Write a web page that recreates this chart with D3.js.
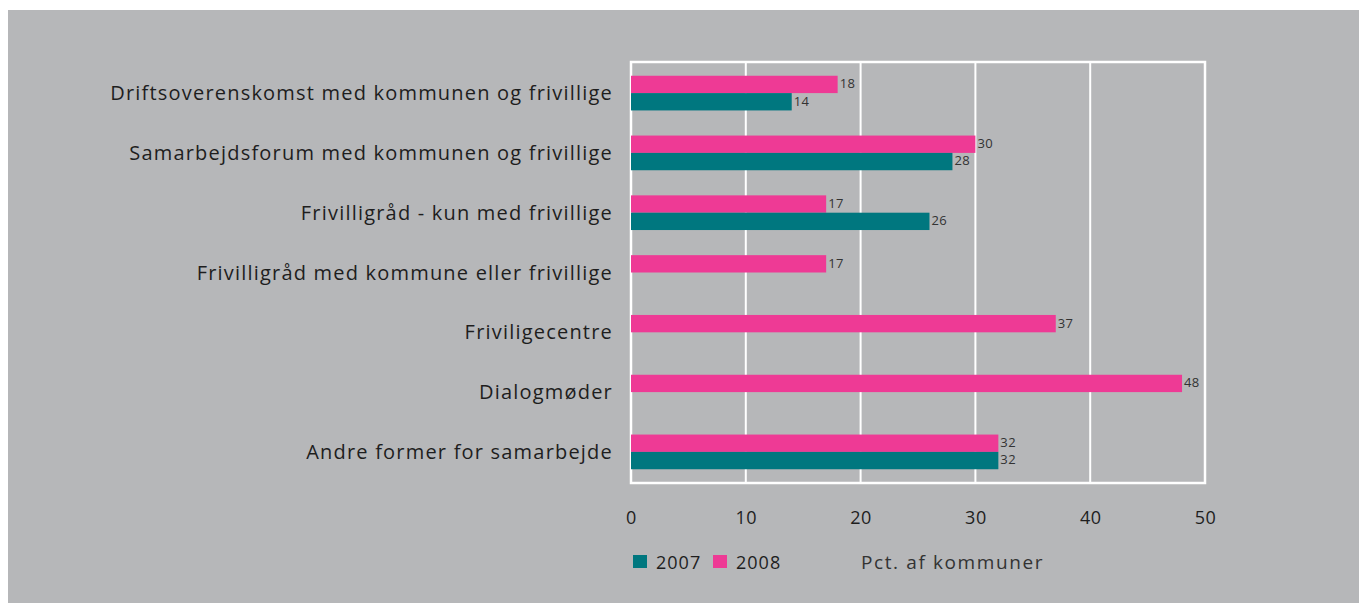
<!DOCTYPE html>
<html>
<head>
<meta charset="utf-8">
<script src="https://cdn.jsdelivr.net/npm/d3@7"></script>
<style>
  html, body { margin: 0; padding: 0; background: #fff; }
  svg { display: block; }
</style>
</head>
<body>
<div id="chart"></div>
<script>
const categories = [
  'Driftsoverenskomst med kommunen og frivillige',
  'Samarbejdsforum med kommunen og frivillige',
  'Frivilligråd - kun med frivillige',
  'Frivilligråd med kommune eller frivillige',
  'Friviligecentre',
  'Dialogmøder',
  'Andre former for samarbejde'
]
const series = ['2008', '2007']
const values2008 = [18, 30, 17, 17, 37, 48, 32]
const values2007 = [14, 28, 26, null, null, null, 32]
const xTicks = [0, 10, 20, 30, 40, 50]
const axisTitle = 'Pct. af kommuner'

const W = 1359, H = 603
const colors = { '2007': '#00777f', '2008': '#ee3a95' }
const font = "'Open Sans', sans-serif"

const margin = { left: 631, right: 154, top: 62, bottom: 120 }

const svg = d3.select('#chart').append('svg')
  .attr('width', W).attr('height', H)

/* grey panel */
svg.append('rect')
  .attr('x', 8).attr('y', 10)
  .attr('width', W - 8).attr('height', H - 10)
  .attr('fill', '#b6b7b9')

const x = d3.scaleLinear().domain([0, 50]).range([margin.left, W - margin.right])
const y = d3.scaleBand().domain(categories).range([margin.top, H - margin.bottom]).paddingInner(0.42).paddingOuter(0.23)
const ySub = d3.scaleBand().domain(series).range([0, y.bandwidth()])

const g = svg.append('g')

/* grid */
g.selectAll('line.grid')
  .data(xTicks.slice(1, -1))
  .join('line')
  .attr('class', 'grid')
  .attr('x1', d => x(d)).attr('x2', d => x(d))
  .attr('y1', margin.top).attr('y2', H - margin.bottom)
  .attr('stroke', '#fff').attr('stroke-width', 2)

/* frame */
g.append('rect')
  .attr('x', x(0)).attr('y', margin.top)
  .attr('width', x(50) - x(0)).attr('height', H - margin.bottom - margin.top)
  .attr('fill', 'none').attr('stroke', '#fff').attr('stroke-width', 2.5)

const rows = categories.map((c, i) => ({ cat: c, '2008': values2008[i], '2007': values2007[i] }))

const bars = []
rows.forEach(r => series.forEach(s => { if (r[s] != null) bars.push({ cat: r.cat, s, v: r[s] }) }))

g.selectAll('rect.bar')
  .data(bars)
  .join('rect')
  .attr('class', 'bar')
  .attr('x', x(0))
  .attr('y', d => y(d.cat) + ySub(d.s))
  .attr('width', d => x(d.v) - x(0))
  .attr('height', ySub.bandwidth())
  .attr('fill', d => colors[d.s])

g.selectAll('text.val')
  .data(bars)
  .join('text')
  .attr('class', 'val')
  .attr('x', d => x(d.v) + 2)
  .attr('y', d => y(d.cat) + ySub(d.s) + ySub.bandwidth() / 2)
  .attr('dy', '0.3em')
  .attr('font-family', font).attr('font-size', 13)
  .attr('letter-spacing', 0.4)
  .attr('fill', '#333')
  .text(d => d.v)

/* category labels */
g.selectAll('text.cat')
  .data(categories)
  .join('text')
  .attr('class', 'cat')
  .attr('x', margin.left - 18)
  .attr('y', d => y(d) + y.bandwidth() / 2)
  .attr('dy', '0.35em')
  .attr('text-anchor', 'end')
  .attr('font-family', font).attr('font-size', 20)
  .attr('letter-spacing', 1.2)
  .attr('fill', '#1e1e1e')
  .text(d => d)

/* x axis */
const xAxis = d3.axisBottom(x).tickValues(xTicks).tickSize(0).tickPadding(0)
const ax = svg.append('g')
  .attr('transform', `translate(0, ${H - margin.bottom + 41})`)
  .call(xAxis)
ax.select('.domain').remove()
ax.selectAll('text')
  .attr('font-family', font).attr('font-size', 18)
  .attr('letter-spacing', 0.5)
  .attr('fill', '#1e1e1e')
  .attr('dy', 0)

/* legend */
const legend = svg.append('g').attr('transform', `translate(${x(0) + 2}, 555)`)
const legItems = ['2007', '2008']
legItems.forEach((s, i) => {
  const lg = legend.append('g').attr('transform', `translate(${i * 80}, 0)`)
  lg.append('rect').attr('width', 14).attr('height', 13).attr('fill', colors[s])
  lg.append('text')
    .attr('x', 23).attr('y', 14)
    .attr('font-family', font).attr('font-size', 18)
    .attr('letter-spacing', 1)
    .attr('fill', '#1e1e1e')
    .text(s)
})

svg.append('text')
  .attr('x', 861).attr('y', 569)
  .attr('font-family', font).attr('font-size', 19)
  .attr('letter-spacing', 1.6)
  .attr('fill', '#333')
  .text(axisTitle)
</script>
</body>
</html>
